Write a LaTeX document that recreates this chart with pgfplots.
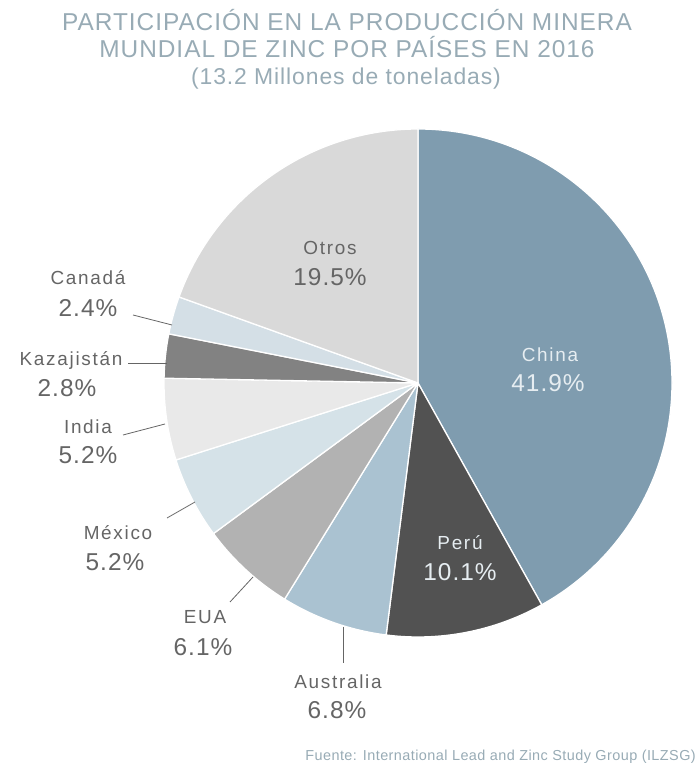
\documentclass[border=0pt]{standalone}
\usepackage{pgfplots}
\pgfplotsset{compat=1.18}
\usepackage{pgfplotstable}
\usepackage{fontspec}
\setmainfont{Liberation Sans}
\newfontfamily\ttlfont{Liberation Sans}[LetterSpace=4]
\newfontfamily\nmfont{Liberation Sans}[LetterSpace=9]
\newfontfamily\pcfont{Liberation Sans}[LetterSpace=4]
\newfontfamily\srcfont{Liberation Sans}[LetterSpace=3]
\definecolor{cChina}{HTML}{7F9CAF}
\definecolor{cPeru}{HTML}{525252}
\definecolor{cAus}{HTML}{AAC2D1}
\definecolor{cEUA}{HTML}{B2B2B2}
\definecolor{cMex}{HTML}{D5E2E8}
\definecolor{cInd}{HTML}{E9E9E9}
\definecolor{cKaz}{HTML}{828282}
\definecolor{cCan}{HTML}{D4DFE6}
\definecolor{cOtr}{HTML}{D9D9D9}
\definecolor{ttlcol}{HTML}{98ABB5}
\definecolor{lblcol}{HTML}{656565}
\definecolor{inlbl}{HTML}{E6EDF1}

\pgfplotstableread[col sep=comma]{
name,value,color
China,41.9,cChina
Peru,10.1,cPeru
Australia,6.8,cAus
EUA,6.1,cEUA
Mexico,5.2,cMex
India,5.2,cInd
Kazajistan,2.8,cKaz
Canada,2.4,cCan
Otros,19.5,cOtr
}\piedata

\begin{document}
\begin{tikzpicture}
\begin{axis}[hide axis, scale only axis, width=698bp, height=775bp,
  xmin=0, xmax=698, ymin=0, ymax=775, clip=false]
\path (axis cs:0,0) rectangle (axis cs:698,775);
\gdef\cum{0}
\pgfplotsforeachungrouped \i in {0,...,8}{%
  \pgfplotstablegetelem{\i}{value}\of\piedata \let\sliceval\pgfplotsretval
  \pgfplotstablegetelem{\i}{color}\of\piedata \let\slicecol\pgfplotsretval
  \pgfmathsetmacro{\aS}{90-3.6*\cum}%
  \pgfmathsetmacro{\aE}{90-3.6*(\cum+\sliceval)}%
  \pgfmathsetmacro{\newcum}{\cum+\sliceval}\global\let\cum\newcum
  \edef\temp{\noexpand\fill[\slicecol, draw=white, line width=1.3pt, line join=round] (axis cs:418,392) -- ([shift={(\aS:254bp)}]axis cs:418,392) arc[start angle=\aS, end angle=\aE, radius=254bp] -- cycle;}%
  \temp
}
% title
\node[anchor=base, text=ttlcol, inner sep=0pt, font=\ttlfont\fontsize{24.5}{26}\selectfont] at (axis cs:347,744) {PARTICIPACIÓN EN LA PRODUCCIÓN MINERA};
\node[anchor=base, text=ttlcol, inner sep=0pt, font=\ttlfont\fontsize{24.5}{26}\selectfont] at (axis cs:347,717) {MUNDIAL DE ZINC POR PAÍSES EN 2016};
\node[anchor=base, text=ttlcol, inner sep=0pt, font=\ttlfont\fontsize{23}{26}\selectfont] at (axis cs:346,690) {(13.2 Millones de toneladas)};
% leader lines
\draw[lblcol, line width=0.8pt] (axis cs:133,460) -- (axis cs:172,450);
\draw[lblcol, line width=0.8pt] (axis cs:128,412) -- (axis cs:167,412);
\draw[lblcol, line width=0.8pt] (axis cs:123,340) -- (axis cs:165,351);
\draw[lblcol, line width=0.8pt] (axis cs:167,257) -- (axis cs:195,273);
\draw[lblcol, line width=0.8pt] (axis cs:230,173) -- (axis cs:253,198);
\draw[lblcol, line width=0.8pt] (axis cs:343,148) -- (axis cs:343,112);
% labels
\tikzset{nm/.style={text=lblcol, font=\nmfont\fontsize{19}{20}\selectfont, inner sep=0pt},
         pc/.style={text=lblcol, font=\pcfont\fontsize{24.5}{26}\selectfont, inner sep=0pt}}
\node[nm] at (axis cs:330,527) {Otros};
\node[pc] at (axis cs:330,498) {19.5\%};
\node[nm] at (axis cs:88,497) {Canadá};
\node[pc] at (axis cs:88,467) {2.4\%};
\node[nm] at (axis cs:71,414) {Kazajistán};
\node[pc] at (axis cs:67,387) {2.8\%};
\node[nm] at (axis cs:88,348) {India};
\node[pc] at (axis cs:88,320) {5.2\%};
\node[nm] at (axis cs:118,242) {México};
\node[pc] at (axis cs:115,213) {5.2\%};
\node[nm] at (axis cs:205,158) {EUA};
\node[pc] at (axis cs:203,128) {6.1\%};
\node[nm] at (axis cs:338,93) {Australia};
\node[pc] at (axis cs:337,65) {6.8\%};
\node[nm, text=inlbl] at (axis cs:550,420) {China};
\node[pc, text=inlbl] at (axis cs:548,392) {41.9\%};
\node[nm, text=inlbl] at (axis cs:460,232) {Perú};
\node[pc, text=inlbl] at (axis cs:460,203) {10.1\%};
% source
\node[anchor=base east, text=ttlcol, font=\srcfont\fontsize{14.5}{16}\selectfont, inner sep=0pt] at (axis cs:696,15) {Fuente: International Lead and Zinc Study Group (ILZSG)};
\end{axis}
\end{tikzpicture}
\end{document}
